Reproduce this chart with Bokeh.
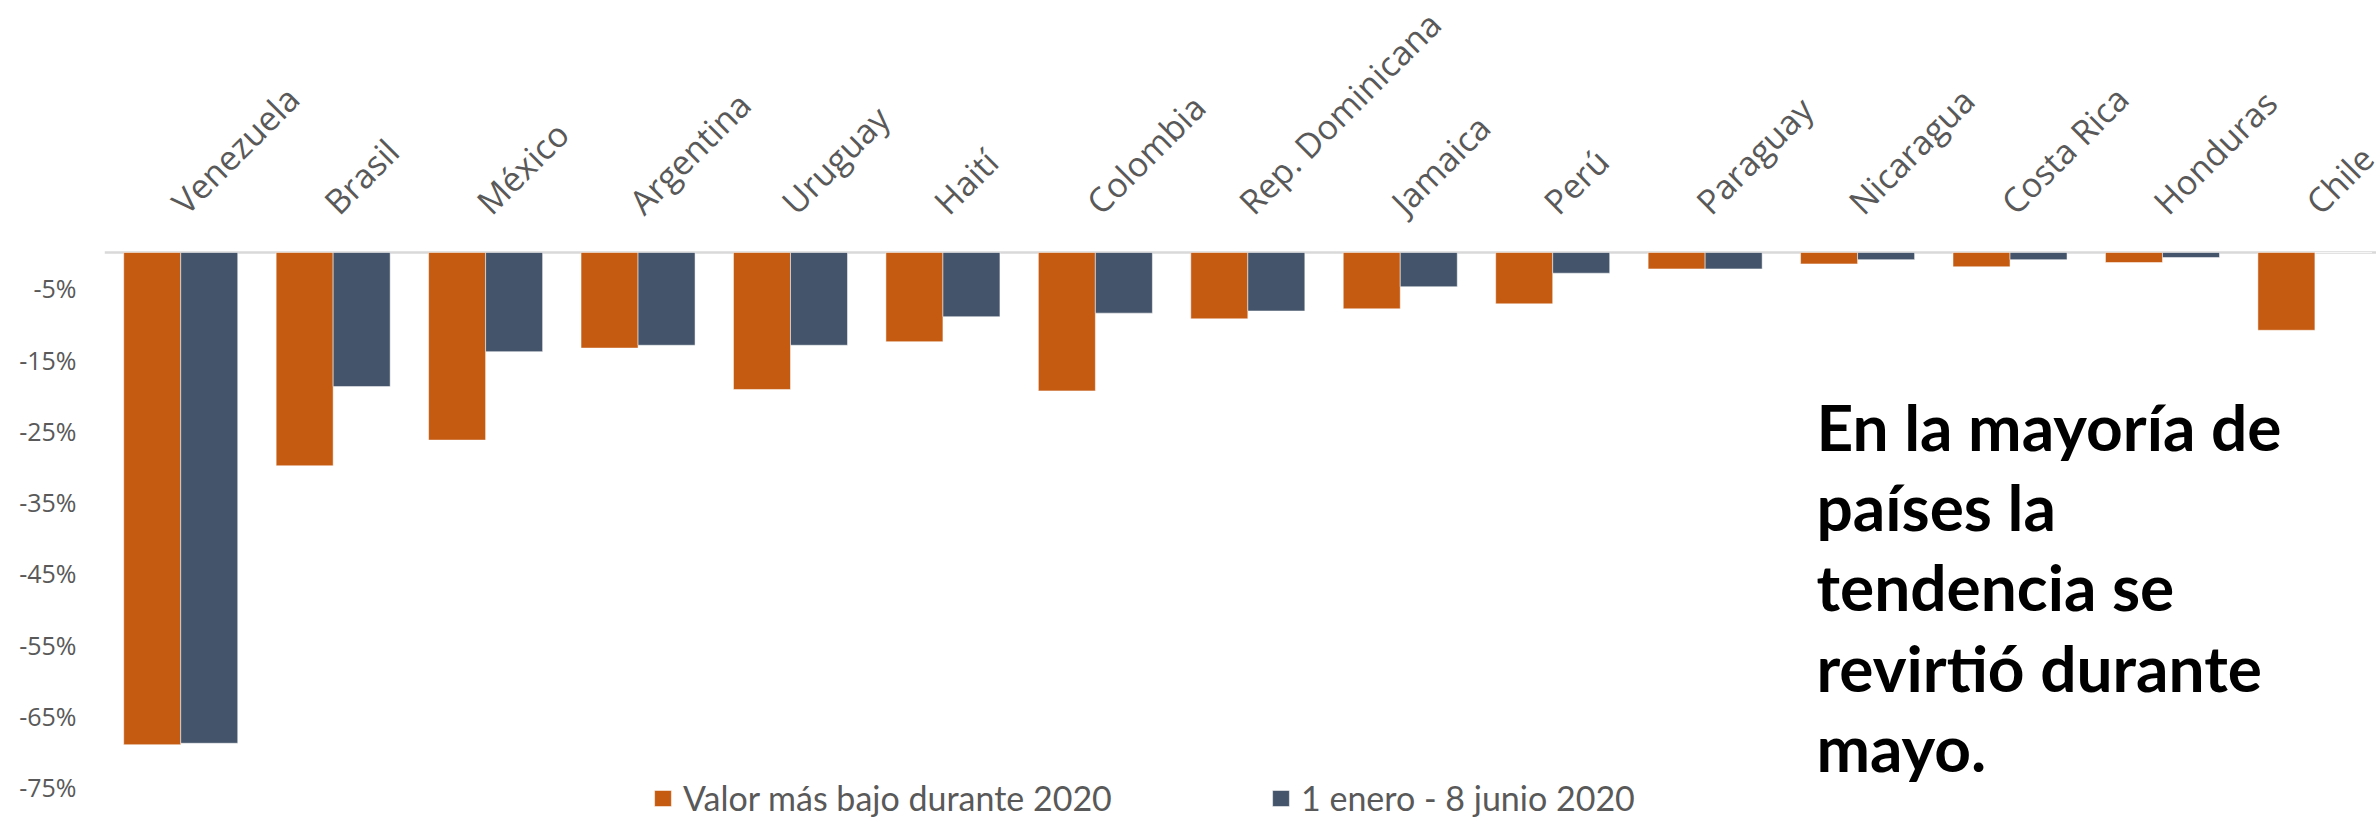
import math
import numpy as np
from bokeh.plotting import figure
from bokeh.models import Range1d, FixedTicker, Legend, LegendItem, Label, Span
from bokeh.core.properties import value
from bokeh.embed import file_html
from bokeh.resources import INLINE

# ---------------- data ----------------
countries = ["Venezuela", "Brasil", "México", "Argentina", "Uruguay", "Haití",
             "Colombia", "Rep. Dominicana", "Jamaica", "Perú", "Paraguay",
             "Nicaragua", "Costa Rica", "Honduras", "Chile"]
lowest_2020 = [-69.0, -29.9, -26.3, -13.4, -19.2, -12.5, -19.4, -9.3, -7.9,
               -7.2, -2.3, -1.6, -2.0, -1.4, -10.9]
jan_jun_2020 = [-68.8, -18.8, -13.9, -13.0, -13.0, -9.0, -8.5, -8.2, -4.8,
                -2.9, -2.3, -1.0, -1.0, -0.7, 0.0]
series_names = ["Valor más bajo durante 2020", "1 enero - 8 junio 2020"]
y_ticks = [-5, -15, -25, -35, -45, -55, -65, -75]
y_tick_labels = ["-5%", "-15%", "-25%", "-35%", "-45%", "-55%", "-65%", "-75%"]
note_lines = ["En la mayoría de", "países la", "tendencia se",
              "revirtió durante", "mayo."]

ORANGE = "#C55A11"
BLUE = "#44546A"
GREY_TXT = "#595959"

# ---------------- figure ----------------
p = figure(width=2376, height=822,
           x_range=Range1d(-0.5, 14.404), y_range=Range1d(-79.91, 35.33),
           x_axis_location=None,
           output_backend="svg", toolbar_location=None,
           min_border_left=104, min_border_right=0,
           min_border_top=0, min_border_bottom=0)
p.background_fill_color = "white"
p.border_fill_color = "white"
p.outline_line_color = None
p.xgrid.grid_line_color = None
p.ygrid.grid_line_color = None

# zero (category axis) line
p.add_layout(Span(location=0, dimension="width", line_color="#D9D9D9",
                  line_width=2.5, level="underlay"))

idx = np.arange(len(countries))
bw = 0.374
r1 = p.vbar(x=idx - bw / 2, width=bw, top=0, bottom=lowest_2020,
            fill_color=ORANGE, line_color="white", line_width=1, line_alpha=0.5)
r2 = p.vbar(x=idx + bw / 2, width=bw, top=0, bottom=jan_jun_2020,
            fill_color=BLUE, line_color="white", line_width=1, line_alpha=0.5)

# category labels, rotated, above the zero line
p.text(x=idx - 0.02, y=np.full(len(countries), 6.3), text=countries,
       angle=math.pi / 4, text_align="left", text_baseline="middle",
       text_font=value("Open Sans"), text_font_size="34px",
       text_color=GREY_TXT)

# y axis
ya = p.yaxis[0]
ya.ticker = FixedTicker(ticks=y_ticks)
ya.major_label_overrides = {t: l for t, l in zip(y_ticks, y_tick_labels)}
ya.major_label_text_font = "Open Sans"
ya.major_label_text_font_size = "25px"
ya.major_label_text_color = GREY_TXT
ya.major_label_standoff = 28
ya.axis_line_color = None
ya.major_tick_line_color = None
ya.minor_tick_line_color = None
ya.major_tick_out = 0
ya.major_tick_in = 0

# legend (placed at the bottom of the frame)
legend = Legend(items=[LegendItem(label=series_names[0], renderers=[r1]),
                       LegendItem(label=series_names[1], renderers=[r2])],
                orientation="horizontal", location=(548, 4),
                glyph_width=21, glyph_height=20, label_standoff=10,
                label_width=587, spacing=0, padding=0, margin=0,
                border_line_color=None, background_fill_alpha=0,
                label_text_font="Lato", label_text_font_size="34px",
                label_text_color=GREY_TXT, label_height=20)
p.add_layout(legend)

# annotation text
x0 = 10.73
middles = [-24.35, -35.61, -46.87, -58.13, -69.38]
for line, ym in zip(note_lines, middles):
    p.add_layout(Label(x=x0, y=ym, text=line, text_font="Lato",
                       text_font_style="bold", text_font_size="64px",
                       text_color="black", text_baseline="middle"))

open("out.html", "w").write(file_html(p, INLINE))
